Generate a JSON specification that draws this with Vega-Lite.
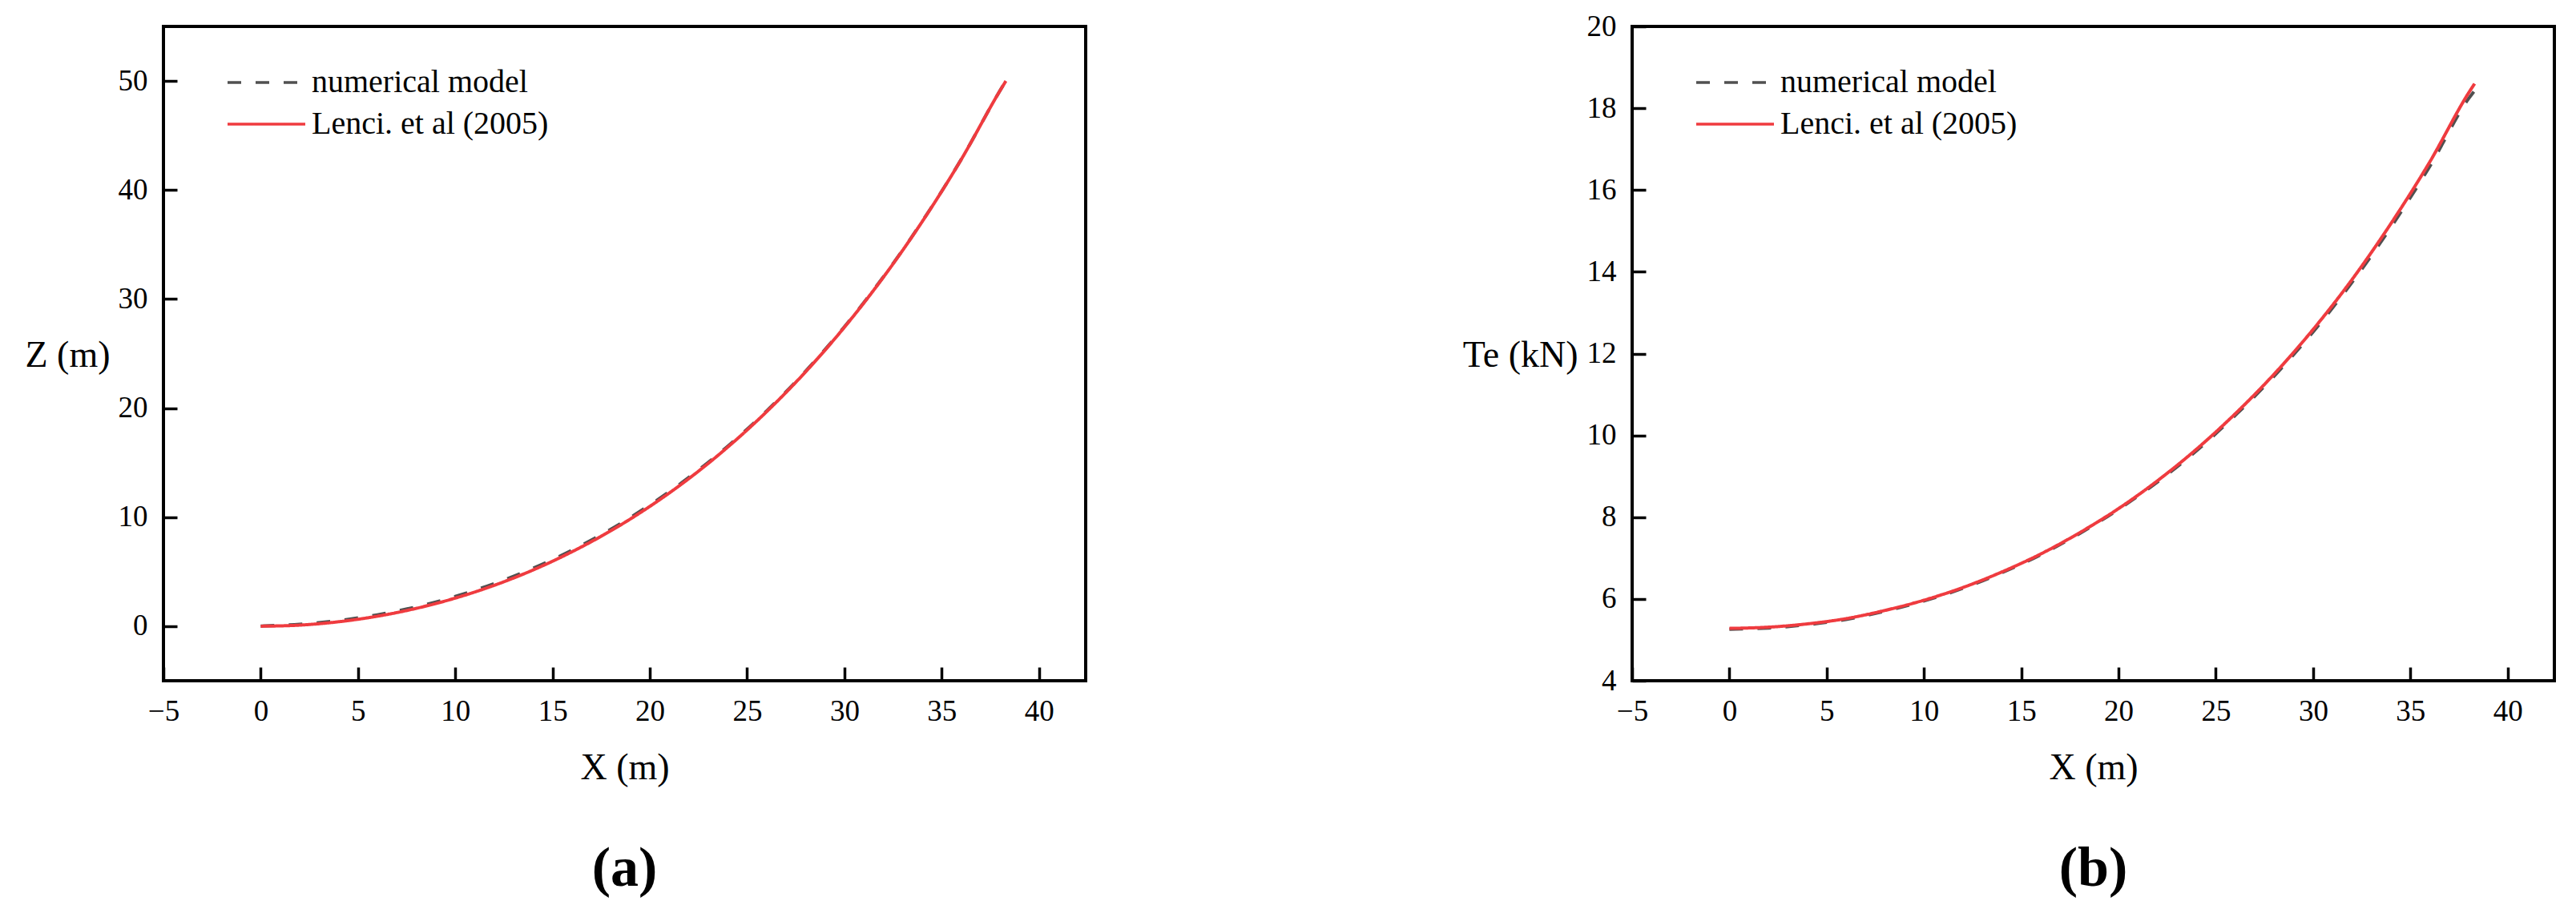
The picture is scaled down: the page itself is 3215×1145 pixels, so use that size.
{
  "$schema": "https://vega.github.io/schema/vega-lite/v6.json",
  "background": "white",
  "padding": {"left": 28, "top": 12, "right": 5, "bottom": 5},
  "datasets": {
    "cat": [
      {"s": "numerical model", "X": 0, "Z": 0.02, "T": 5.26},
      {"s": "numerical model", "X": 2, "Z": 0.18, "T": 5.29},
      {"s": "numerical model", "X": 4, "Z": 0.52, "T": 5.37},
      {"s": "numerical model", "X": 6, "Z": 1.05, "T": 5.50},
      {"s": "numerical model", "X": 8, "Z": 1.78, "T": 5.70},
      {"s": "numerical model", "X": 10, "Z": 2.73, "T": 5.95},
      {"s": "numerical model", "X": 12, "Z": 3.91, "T": 6.26},
      {"s": "numerical model", "X": 14, "Z": 5.32, "T": 6.64},
      {"s": "numerical model", "X": 16, "Z": 6.98, "T": 7.08},
      {"s": "numerical model", "X": 18, "Z": 8.90, "T": 7.60},
      {"s": "numerical model", "X": 20, "Z": 11.12, "T": 8.19},
      {"s": "numerical model", "X": 22, "Z": 13.64, "T": 8.86},
      {"s": "numerical model", "X": 24, "Z": 16.50, "T": 9.62},
      {"s": "numerical model", "X": 26, "Z": 19.74, "T": 10.49},
      {"s": "numerical model", "X": 28, "Z": 23.38, "T": 11.45},
      {"s": "numerical model", "X": 30, "Z": 27.46, "T": 12.53},
      {"s": "numerical model", "X": 32, "Z": 32.03, "T": 13.74},
      {"s": "numerical model", "X": 34, "Z": 37.13, "T": 15.09},
      {"s": "numerical model", "X": 36, "Z": 42.80, "T": 16.58},
      {"s": "numerical model", "X": 38, "Z": 49.13, "T": 18.24},
      {"s": "numerical model", "X": 38.3, "Z": 50.02, "T": 18.43},
      {"s": "Lenci. et al (2005)", "X": 0, "Z": 0, "T": 5.28},
      {"s": "Lenci. et al (2005)", "X": 2, "Z": 0.10, "T": 5.31},
      {"s": "Lenci. et al (2005)", "X": 4, "Z": 0.41, "T": 5.39},
      {"s": "Lenci. et al (2005)", "X": 6, "Z": 0.92, "T": 5.52},
      {"s": "Lenci. et al (2005)", "X": 8, "Z": 1.64, "T": 5.72},
      {"s": "Lenci. et al (2005)", "X": 10, "Z": 2.58, "T": 5.97},
      {"s": "Lenci. et al (2005)", "X": 12, "Z": 3.75, "T": 6.28},
      {"s": "Lenci. et al (2005)", "X": 14, "Z": 5.16, "T": 6.66},
      {"s": "Lenci. et al (2005)", "X": 16, "Z": 6.83, "T": 7.10},
      {"s": "Lenci. et al (2005)", "X": 18, "Z": 8.76, "T": 7.62},
      {"s": "Lenci. et al (2005)", "X": 20, "Z": 10.99, "T": 8.21},
      {"s": "Lenci. et al (2005)", "X": 22, "Z": 13.53, "T": 8.89},
      {"s": "Lenci. et al (2005)", "X": 24, "Z": 16.42, "T": 9.66},
      {"s": "Lenci. et al (2005)", "X": 26, "Z": 19.67, "T": 10.53},
      {"s": "Lenci. et al (2005)", "X": 28, "Z": 23.32, "T": 11.50},
      {"s": "Lenci. et al (2005)", "X": 30, "Z": 27.42, "T": 12.59},
      {"s": "Lenci. et al (2005)", "X": 32, "Z": 32.00, "T": 13.81},
      {"s": "Lenci. et al (2005)", "X": 34, "Z": 37.11, "T": 15.18},
      {"s": "Lenci. et al (2005)", "X": 36, "Z": 42.79, "T": 16.69},
      {"s": "Lenci. et al (2005)", "X": 38, "Z": 49.12, "T": 18.38},
      {"s": "Lenci. et al (2005)", "X": 38.3, "Z": 50.0, "T": 18.60}
    ]
  },
  "config": {
    "font": "Liberation Serif",
    "view": {"stroke": "black", "strokeWidth": 4},
    "axis": {
      "domain": false, "grid": false,
      "ticks": true, "tickColor": "black", "tickWidth": 3.5, "tickSize": -17,
      "labelFont": "Liberation Serif", "labelFontSize": 37, "labelColor": "black",
      "labelPadding": 37, "labelFlush": false, "labelOverlap": false, "labelBound": false,
      "titleFont": "Liberation Serif", "titleFontSize": 46, "titleFontWeight": "normal", "titleColor": "black"
    },
    "legend": {
      "orient": "none", "legendX": 78, "legendY": 50,
      "symbolType": "stroke", "symbolSize": 9409, "symbolStrokeWidth": 3.5,
      "labelFont": "Liberation Serif", "labelFontSize": 40, "labelColor": "black",
      "labelOffset": 6, "rowPadding": 12, "clipHeight": 40, "padding": 0, "labelLimit": 0
    },
    "title": {"font": "Liberation Serif", "fontSize": 70, "fontWeight": "bold", "color": "black", "orient": "bottom", "anchor": "middle", "baseline": "top", "offset": 70}
  },
  "spacing": 466,
  "resolve": {"scale": {"color": "independent", "strokeDash": "independent"}, "legend": {"color": "independent", "strokeDash": "independent"}},
  "hconcat": [
    {
      "width": 1151, "height": 817,
      "title": {"text": "(a)"},
      "data": {"name": "cat"},
      "encoding": {
        "x": {"field": "X", "type": "quantitative",
          "scale": {"domain": [-5, 42.4], "nice": false, "zero": false},
          "axis": {"title": "X (m)", "values": [-5, 0, 5, 10, 15, 20, 25, 30, 35, 40], "titleY": 122, "titleBaseline": "alphabetic"}},
        "y": {"field": "Z", "type": "quantitative",
          "scale": {"domain": [-5, 55], "nice": false, "zero": false},
          "axis": {"title": "Z (m)", "values": [0, 10, 20, 30, 40, 50], "titleAngle": 0, "titleX": -67, "titleY": 410, "titleAlign": "right", "titleBaseline": "middle"}},
        "color": {"field": "s", "type": "nominal", "title": null,
          "scale": {"domain": ["numerical model", "Lenci. et al (2005)"], "range": ["#505050", "#ef3b3f"]}},
        "strokeDash": {"field": "s", "type": "nominal", "title": null,
          "scale": {"domain": ["numerical model", "Lenci. et al (2005)"], "range": [[17, 18], [1, 0]]}}
      },
      "layer": [
        {"transform": [{"filter": "datum.s === 'numerical model'"}], "mark": {"type": "line", "strokeWidth": 4, "interpolate": "monotone"}},
        {"transform": [{"filter": "datum.s !== 'numerical model'"}], "mark": {"type": "line", "strokeWidth": 4, "interpolate": "monotone"}}
      ]
    },
    {
      "width": 1151, "height": 817,
      "title": {"text": "(b)"},
      "data": {"name": "cat"},
      "encoding": {
        "x": {"field": "X", "type": "quantitative",
          "scale": {"domain": [-5, 42.4], "nice": false, "zero": false},
          "axis": {"title": "X (m)", "values": [-5, 0, 5, 10, 15, 20, 25, 30, 35, 40], "titleY": 122, "titleBaseline": "alphabetic"}},
        "y": {"field": "T", "type": "quantitative",
          "scale": {"domain": [4, 20], "nice": false, "zero": false},
          "axis": {"title": "Te (kN)", "values": [4, 6, 8, 10, 12, 14, 16, 18, 20], "titleAngle": 0, "titleX": -68, "titleY": 410, "titleAlign": "right", "titleBaseline": "middle"}},
        "color": {"field": "s", "type": "nominal", "title": null,
          "scale": {"domain": ["numerical model", "Lenci. et al (2005)"], "range": ["#505050", "#ef3b3f"]}},
        "strokeDash": {"field": "s", "type": "nominal", "title": null,
          "scale": {"domain": ["numerical model", "Lenci. et al (2005)"], "range": [[17, 18], [1, 0]]}}
      },
      "layer": [
        {"transform": [{"filter": "datum.s === 'numerical model'"}], "mark": {"type": "line", "strokeWidth": 4, "interpolate": "monotone"}},
        {"transform": [{"filter": "datum.s !== 'numerical model'"}], "mark": {"type": "line", "strokeWidth": 4, "interpolate": "monotone"}}
      ]
    }
  ]
}
